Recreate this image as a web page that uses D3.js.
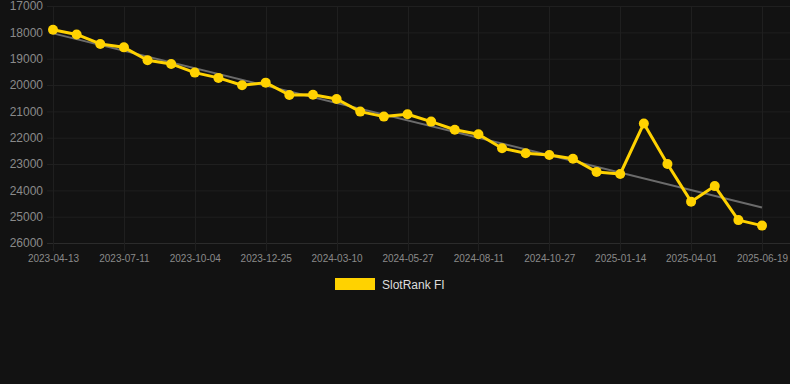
<!DOCTYPE html>
<html lang="en">
<head>
  <meta charset="UTF-8">
  <script type="text/javascript" src="https://cdn.jsdelivr.net/npm/d3@7/dist/d3.min.js"></script>
  <title>SlotRank FI</title>
  <style type="text/css">
    * {
      margin: 0;
      padding: 0;
    }

    html, body {
      width: 100%;
      height: 100%;
      background-color: #121212;
      overflow: hidden;
    }

    svg text {
      font-family: "Liberation Sans", Arial, Helvetica, sans-serif;
    }
  </style>
</head>

<body>
<div id="box"></div>
</body>
<script type="text/javascript">
  // data
  var dates = ['2023-04-13', '2023-05-12', '2023-06-11', '2023-07-11', '2023-08-08', '2023-09-06',
    '2023-10-04', '2023-11-01', '2023-11-28', '2023-12-25', '2024-01-21', '2024-02-15',
    '2024-03-10', '2024-04-06', '2024-05-02', '2024-05-27', '2024-06-22', '2024-07-17',
    '2024-08-11', '2024-09-06', '2024-10-02', '2024-10-27', '2024-11-22', '2024-12-19',
    '2025-01-14', '2025-02-08', '2025-03-06', '2025-04-01', '2025-04-27', '2025-05-24',
    '2025-06-19']
  var ranks = [17900, 18080, 18440, 18570, 19060, 19200, 19530, 19730, 20010, 19910,
    20380, 20370, 20530, 21010, 21200, 21110, 21390, 21700, 21870, 22400,
    22590, 22660, 22800, 23300, 23380, 21460, 23000, 24430, 23840, 25130, 25340]
  var trend = [18040, 24650]   // trend line, first and last date
  var yTicks = [17000, 18000, 19000, 20000, 21000, 22000, 23000, 24000, 25000, 26000]
  var xTickLabels = dates.filter(function (d, i) { return i % 3 === 0 })
  var seriesName = 'SlotRank FI'

  var width = 790
  var height = 384
  var svg = d3.select('#box')
    .append('svg')
    .attr('width', width)
    .attr('height', height)

  svg.append('rect')
    .attr('width', width)
    .attr('height', height)
    .attr('fill', '#121212')

  // scales
  var x = d3.scalePoint()
    .domain(dates)
    .range([53, 762])

  var y = d3.scaleLinear()
    .domain([17000, 26000])
    .range([6, 243])

  // grid
  var grid = svg.append('g')
  grid.selectAll('.hgrid')
    .data(yTicks)
    .enter()
    .append('line')
    .attr('x1', 47)
    .attr('x2', width)
    .attr('y1', function (d) { return y(d) + 0.5 })
    .attr('y2', function (d) { return y(d) + 0.5 })
    .attr('stroke', function (d) { return d === 26000 ? '#2b2b2b' : '#1f1f1f' })
    .attr('stroke-width', 1)

  grid.selectAll('.vgrid')
    .data(xTickLabels)
    .enter()
    .append('line')
    .attr('x1', function (d) { return Math.round(x(d)) + 0.5 })
    .attr('x2', function (d) { return Math.round(x(d)) + 0.5 })
    .attr('y1', 6)
    .attr('y2', 251)
    .attr('stroke', '#1f1f1f')
    .attr('stroke-width', 1)

  // axes
  var yaxis = d3.axisLeft(y)
    .tickValues(yTicks)
    .tickFormat(d3.format('d'))
    .tickSize(0)
    .tickPadding(0)
  var gy = svg.append('g')
    .attr('transform', 'translate(43,0)')
    .call(yaxis)
  gy.select('.domain').remove()
  gy.selectAll('text')
    .attr('fill', '#8a8a8a')
    .style('font-size', '12px')

  var xaxis = d3.axisBottom(x)
    .tickValues(xTickLabels)
    .tickSize(0)
    .tickPadding(12)
  var gx = svg.append('g')
    .attr('transform', 'translate(0,243)')
    .call(xaxis)
  gx.select('.domain').remove()
  gx.selectAll('text')
    .attr('fill', '#8a8a8a')
    .style('font-size', '10px')

  // trend line
  svg.append('line')
    .attr('x1', x(dates[0]))
    .attr('y1', y(trend[0]))
    .attr('x2', x(dates[dates.length - 1]))
    .attr('y2', y(trend[1]))
    .attr('stroke', '#6b6b6b')
    .attr('stroke-width', 2)

  // series line
  var line = d3.line()
    .x(function (d, i) { return x(dates[i]) })
    .y(function (d) { return y(d) })

  svg.append('path')
    .datum(ranks)
    .attr('d', line)
    .attr('fill', 'none')
    .attr('stroke', '#ffd200')
    .attr('stroke-width', 3)
    .attr('stroke-linejoin', 'round')

  svg.selectAll('.pt')
    .data(ranks)
    .enter()
    .append('circle')
    .attr('cx', function (d, i) { return x(dates[i]) })
    .attr('cy', function (d) { return y(d) })
    .attr('r', 5)
    .attr('fill', '#ffd200')

  // legend
  svg.append('rect')
    .attr('x', 335)
    .attr('y', 278)
    .attr('width', 40)
    .attr('height', 12)
    .attr('fill', '#ffd200')
  svg.append('text')
    .attr('x', 382)
    .attr('y', 288.5)
    .attr('fill', '#dddddd')
    .style('font-size', '12px')
    .text(seriesName)
</script>
</html>
